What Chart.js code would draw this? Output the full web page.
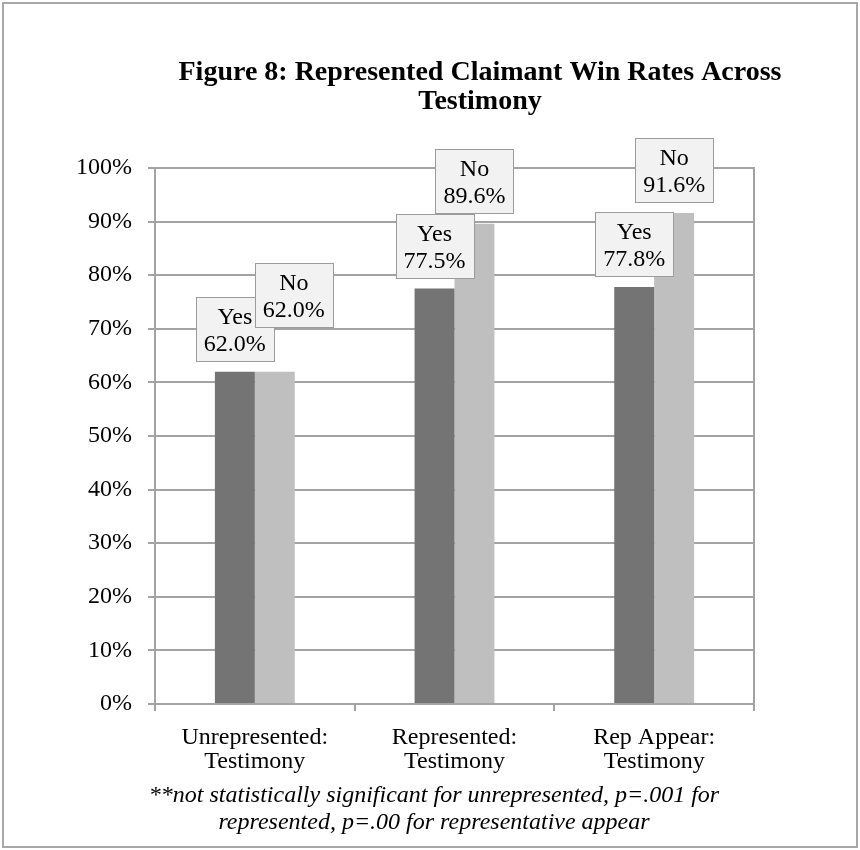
<!DOCTYPE html>
<html>
<head>
<meta charset="utf-8">
<script src="https://cdn.jsdelivr.net/npm/chart.js@4.4.1/dist/chart.umd.min.js"></script>
<style>
  html, body { margin: 0; padding: 0; background: #ffffff; }
  #wrap { width: 860px; height: 850px; position: relative; }
</style>
</head>
<body>
<div id="wrap"><canvas id="winRates"></canvas></div>
<script>
// chart data
const categories = [
    ['Unrepresented:', 'Testimony'],
    ['Represented:', 'Testimony'],
    ['Rep Appear:', 'Testimony']
];
const seriesNames = ['Yes', 'No'];
const yesRates = [62.0, 77.5, 77.8];
const noRates = [62.0, 89.6, 91.6];
const yMax = 100;
const yStep = 10;

const titleLines = ['Figure 8: Represented Claimant Win Rates Across', 'Testimony'];
const noteLines = [
    '**not statistically significant for unrepresented, p=.001 for',
    'represented, p=.00 for representative appear'
];

const serif = '"Liberation Serif", "Times New Roman", serif';
const gridGray = '#a3a3a3';

// frame, title, footnote, right edge of plot
const framePlugin = {
    id: 'frame',
    beforeDraw(chart) {
        const ctx = chart.ctx;
        ctx.save();
        ctx.fillStyle = '#ffffff';
        ctx.fillRect(0, 0, chart.width, chart.height);
        ctx.strokeStyle = '#a8a8a8';
        ctx.lineWidth = 2;
        ctx.strokeRect(3, 3, chart.width - 6, chart.height - 6);
        ctx.restore();
    },
    afterDraw(chart) {
        const ctx = chart.ctx;
        const area = chart.chartArea;
        ctx.save();
        // right border of the plot area
        ctx.strokeStyle = gridGray;
        ctx.lineWidth = 2;
        ctx.beginPath();
        ctx.moveTo(area.right, area.top - 1);
        ctx.lineTo(area.right, area.bottom + 7);
        ctx.stroke();

        ctx.fillStyle = '#000000';
        ctx.textAlign = 'center';
        ctx.textBaseline = 'middle';
        ctx.font = 'bold 28px ' + serif;
        ctx.fillText(titleLines[0], 480, 73);
        ctx.fillText(titleLines[1], 480, 102);

        ctx.font = 'italic 24px ' + serif;
        ctx.fillText(noteLines[0], 434, 796);
        ctx.fillText(noteLines[1], 434, 823);
        ctx.restore();
    }
};

// boxed data labels above the bars
const boxLabelPlugin = {
    id: 'boxLabels',
    afterDatasetsDraw(chart, args, opts) {
        const ctx = chart.ctx;
        const w = 78, h = 64, gap = 11;
        ctx.save();
        ctx.font = '24px ' + serif;
        ctx.textAlign = 'center';
        ctx.textBaseline = 'middle';
        chart.data.datasets.forEach((ds, di) => {
            const meta = chart.getDatasetMeta(di);
            meta.data.forEach((bar, i) => {
                const shift = (opts.shifts[di] && opts.shifts[di][i]) || [0, 0];
                const cx = bar.x + shift[0];
                const bottom = bar.y - gap + shift[1];
                const left = Math.round(cx - w / 2) + 0.5;
                const top = Math.round(bottom - h) + 0.5;
                ctx.fillStyle = '#f2f2f2';
                ctx.fillRect(left, top, w, h);
                ctx.strokeStyle = '#9c9c9c';
                ctx.lineWidth = 1;
                ctx.strokeRect(left, top, w, h);
                ctx.fillStyle = '#000000';
                ctx.fillText(seriesNames[di], cx, top + 20);
                ctx.fillText(ds.data[i].toFixed(1) + '%', cx, top + 47);
            });
        });
        ctx.restore();
    }
};

const ctx = document.getElementById('winRates').getContext('2d');
new Chart(ctx, {
    type: 'bar',
    data: {
        labels: categories,
        datasets: [
            {
                label: seriesNames[0],
                data: yesRates,
                backgroundColor: '#747474',
                borderWidth: 0,
                categoryPercentage: 0.4,
                barPercentage: 1.0
            },
            {
                label: seriesNames[1],
                data: noRates,
                backgroundColor: '#bfbfbf',
                borderWidth: 0,
                categoryPercentage: 0.4,
                barPercentage: 1.0
            }
        ]
    },
    options: {
        responsive: true,
        maintainAspectRatio: false,
        animation: false,
        layout: {
            padding: { top: 168, right: 106, bottom: 76, left: 20 }
        },
        plugins: {
            legend: { display: false },
            tooltip: { enabled: false },
            title: { display: false },
            boxLabels: {
                // manual nudge of the overlapping "No" label on the first group
                shifts: [[], [[19, -34]]]
            }
        },
        scales: {
            x: {
                grid: {
                    display: true,
                    drawOnChartArea: false,
                    drawTicks: true,
                    tickLength: 7,
                    color: gridGray,
                    lineWidth: 2
                },
                border: { display: true, color: gridGray, width: 2 },
                ticks: {
                    color: '#000000',
                    padding: 15,
                    maxRotation: 0,
                    autoSkip: false,
                    font: { family: serif, size: 24, lineHeight: 1.0 }
                },
                afterFit(scale) { scale.height = 70; }
            },
            y: {
                min: 0,
                max: yMax,
                ticks: {
                    stepSize: yStep,
                    color: '#000000',
                    padding: 16,
                    font: { family: serif, size: 24 },
                    callback: v => v + '%'
                },
                grid: {
                    color: gridGray,
                    lineWidth: 2,
                    drawTicks: true,
                    tickLength: 7
                },
                border: { display: true, color: gridGray, width: 2 },
                afterFit(scale) { scale.width = 135; }
            }
        }
    },
    plugins: [framePlugin, boxLabelPlugin]
});
</script>
</body>
</html>
